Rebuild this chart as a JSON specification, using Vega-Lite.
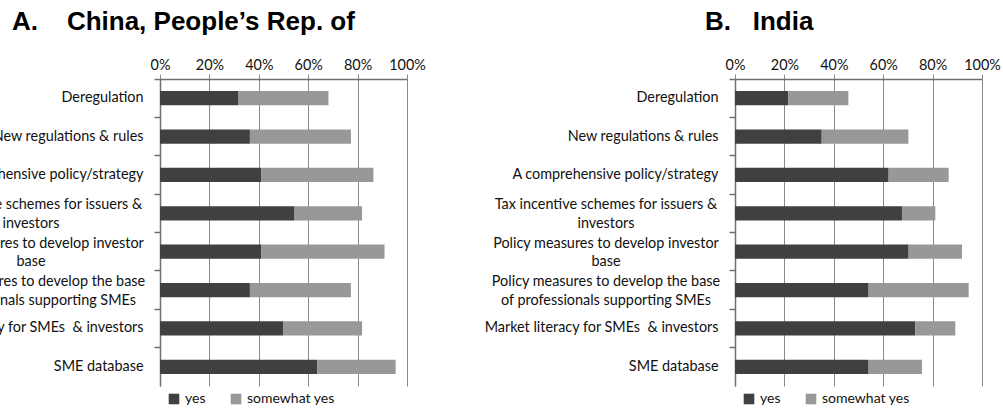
{
  "$schema": "https://vega.github.io/schema/vega-lite/v6.json",
  "autosize": {"type": "none"},
  "padding": {"left": 160, "top": 79, "right": 843, "bottom": 329},
  "background": "white",
  "config": {
    "font": "Lato",
    "view": {"stroke": null},
    "axis": {"labelColor": "#111111", "labelFont": "Lato", "labelFontSize": 14.4},
    "legend": {"labelFont": "Lato", "labelFontSize": 14, "labelColor": "#111111"}
  },
  "datasets": {
    "survey": [
      {"country": "China", "item": "Deregulation", "response": "yes", "value": 31.8},
      {"country": "China", "item": "Deregulation", "response": "somewhat yes", "value": 36.4},
      {"country": "China", "item": "New regulations & rules", "response": "yes", "value": 36.4},
      {"country": "China", "item": "New regulations & rules", "response": "somewhat yes", "value": 40.9},
      {"country": "China", "item": "A comprehensive policy/strategy", "response": "yes", "value": 40.9},
      {"country": "China", "item": "A comprehensive policy/strategy", "response": "somewhat yes", "value": 45.5},
      {"country": "China", "item": "Tax incentive schemes for issuers &|investors", "response": "yes", "value": 54.5},
      {"country": "China", "item": "Tax incentive schemes for issuers &|investors", "response": "somewhat yes", "value": 27.3},
      {"country": "China", "item": "Policy measures to develop investor|base", "response": "yes", "value": 40.9},
      {"country": "China", "item": "Policy measures to develop investor|base", "response": "somewhat yes", "value": 50.0},
      {"country": "China", "item": "Policy measures to develop the base|of professionals supporting SMEs", "response": "yes", "value": 36.4},
      {"country": "China", "item": "Policy measures to develop the base|of professionals supporting SMEs", "response": "somewhat yes", "value": 40.9},
      {"country": "China", "item": "Market literacy for SMEs\u00a0 & investors", "response": "yes", "value": 50.0},
      {"country": "China", "item": "Market literacy for SMEs\u00a0 & investors", "response": "somewhat yes", "value": 31.8},
      {"country": "China", "item": "SME database", "response": "yes", "value": 63.6},
      {"country": "China", "item": "SME database", "response": "somewhat yes", "value": 31.8},
      {"country": "India", "item": "Deregulation", "response": "yes", "value": 21.6},
      {"country": "India", "item": "Deregulation", "response": "somewhat yes", "value": 24.3},
      {"country": "India", "item": "New regulations & rules", "response": "yes", "value": 35.1},
      {"country": "India", "item": "New regulations & rules", "response": "somewhat yes", "value": 35.1},
      {"country": "India", "item": "A comprehensive policy/strategy", "response": "yes", "value": 62.2},
      {"country": "India", "item": "A comprehensive policy/strategy", "response": "somewhat yes", "value": 24.3},
      {"country": "India", "item": "Tax incentive schemes for issuers &|investors", "response": "yes", "value": 67.6},
      {"country": "India", "item": "Tax incentive schemes for issuers &|investors", "response": "somewhat yes", "value": 13.5},
      {"country": "India", "item": "Policy measures to develop investor|base", "response": "yes", "value": 70.3},
      {"country": "India", "item": "Policy measures to develop investor|base", "response": "somewhat yes", "value": 21.6},
      {"country": "India", "item": "Policy measures to develop the base|of professionals supporting SMEs", "response": "yes", "value": 54.1},
      {"country": "India", "item": "Policy measures to develop the base|of professionals supporting SMEs", "response": "somewhat yes", "value": 40.5},
      {"country": "India", "item": "Market literacy for SMEs\u00a0 & investors", "response": "yes", "value": 73.0},
      {"country": "India", "item": "Market literacy for SMEs\u00a0 & investors", "response": "somewhat yes", "value": 16.2},
      {"country": "India", "item": "SME database", "response": "yes", "value": 54.1},
      {"country": "India", "item": "SME database", "response": "somewhat yes", "value": 21.6}
    ]
  },
  "spacing": 328,
  "bounds": "flush",
  "resolve": {"legend": {"color": "independent"}},
  "hconcat": [
    {
      "width": 247,
      "height": 307,
      "data": {"name": "survey"},
      "transform": [{"filter": "datum.country === 'China'"}],
      "title": {"text": "A.\u00a0\u00a0\u00a0\u00a0China, People’s Rep. of", "anchor": "start", "frame": "group", "dx": -148, "offset": 22, "font": "Liberation Sans", "fontSize": 26, "fontWeight": "bold", "color": "#000000"},
      "mark": {"type": "bar", "height": {"band": 0.37}},
      "encoding": {
        "y": {
          "field": "item", "type": "nominal",
          "sort": ["Deregulation", "New regulations & rules", "A comprehensive policy/strategy", "Tax incentive schemes for issuers &|investors", "Policy measures to develop investor|base", "Policy measures to develop the base|of professionals supporting SMEs", "Market literacy for SMEs\u00a0 & investors", "SME database"],
          "scale": {"paddingInner": 0, "paddingOuter": 0},
          "axis": {
            "title": null, "bandPosition": 0, "ticks": true, "tickSize": 6, "tickColor": "#707070", "tickWidth": 1.5,
            "domainColor": "#707070", "domainWidth": 1.5, "grid": false,
            "labelExpr": "split(datum.value, '|')", "labelLimit": 500, "labelLineHeight": 18.5, "labelBaseline": "middle",
            "labelAlign": {"condition": {"test": "indexof(datum.value, '|') >= 0", "value": "center"}, "value": "right"},
            "labelPadding": {"condition": {"test": "indexof(datum.value, '|') >= 0", "value": 123.5}, "value": 11},
            "labelOffset": {"condition": {"test": "indexof(datum.value, '|') >= 0", "value": -8}, "value": 0}
          }
        },
        "x": {
          "field": "value", "type": "quantitative", "stack": "zero",
          "scale": {"domain": [0, 100]},
          "axis": {
            "orient": "top", "title": null, "values": [0, 20, 40, 60, 80, 100], "labelExpr": "datum.value + '%'",
            "grid": true, "gridColor": "#8a8a8a", "gridWidth": 1, "tickSize": 5, "tickColor": "#8a8a8a",
            "domainColor": "#707070", "domainWidth": 1.5, "labelPadding": 2, "labelFlush": false
          }
        },
        "color": {
          "field": "response", "type": "nominal",
          "scale": {"domain": ["yes", "somewhat yes"], "range": ["#404040", "#989898"]},
          "legend": {"title": null, "orient": "none", "legendX": 7, "legendY": 313, "direction": "horizontal", "symbolType": "square", "symbolSize": 112, "symbolStrokeWidth": 0, "labelOffset": 4, "columnPadding": 23, "padding": 0}
        },
        "order": {"field": "response", "sort": "descending"}
      }
    },
    {
      "width": 247,
      "height": 307,
      "data": {"name": "survey"},
      "transform": [{"filter": "datum.country === 'India'"}],
      "title": {"text": "B.\u00a0\u00a0\u00a0India", "anchor": "start", "frame": "group", "dx": -30, "offset": 22, "font": "Liberation Sans", "fontSize": 26, "fontWeight": "bold", "color": "#000000"},
      "mark": {"type": "bar", "height": {"band": 0.37}},
      "encoding": {
        "y": {
          "field": "item", "type": "nominal",
          "sort": ["Deregulation", "New regulations & rules", "A comprehensive policy/strategy", "Tax incentive schemes for issuers &|investors", "Policy measures to develop investor|base", "Policy measures to develop the base|of professionals supporting SMEs", "Market literacy for SMEs\u00a0 & investors", "SME database"],
          "scale": {"paddingInner": 0, "paddingOuter": 0},
          "axis": {
            "title": null, "bandPosition": 0, "ticks": true, "tickSize": 6, "tickColor": "#707070", "tickWidth": 1.5,
            "domainColor": "#707070", "domainWidth": 1.5, "grid": false,
            "labelExpr": "split(datum.value, '|')", "labelLimit": 500, "labelLineHeight": 18.5, "labelBaseline": "middle",
            "labelAlign": {"condition": {"test": "indexof(datum.value, '|') >= 0", "value": "center"}, "value": "right"},
            "labelPadding": {"condition": {"test": "indexof(datum.value, '|') >= 0", "value": 123.5}, "value": 11},
            "labelOffset": {"condition": {"test": "indexof(datum.value, '|') >= 0", "value": -8}, "value": 0}
          }
        },
        "x": {
          "field": "value", "type": "quantitative", "stack": "zero",
          "scale": {"domain": [0, 100]},
          "axis": {
            "orient": "top", "title": null, "values": [0, 20, 40, 60, 80, 100], "labelExpr": "datum.value + '%'",
            "grid": true, "gridColor": "#8a8a8a", "gridWidth": 1, "tickSize": 5, "tickColor": "#8a8a8a",
            "domainColor": "#707070", "domainWidth": 1.5, "labelPadding": 2, "labelFlush": false
          }
        },
        "color": {
          "field": "response", "type": "nominal",
          "scale": {"domain": ["yes", "somewhat yes"], "range": ["#404040", "#989898"]},
          "legend": {"title": null, "orient": "none", "legendX": 7, "legendY": 313, "direction": "horizontal", "symbolType": "square", "symbolSize": 112, "symbolStrokeWidth": 0, "labelOffset": 4, "columnPadding": 23, "padding": 0}
        },
        "order": {"field": "response", "sort": "descending"}
      }
    }
  ]
}
